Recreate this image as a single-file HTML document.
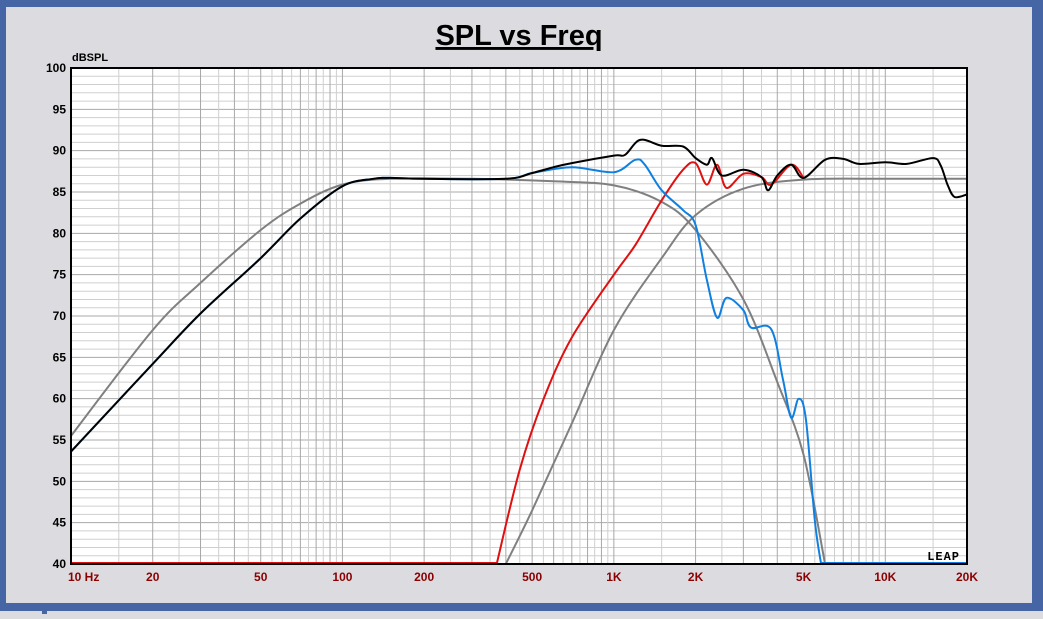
<!DOCTYPE html>
<html><head><meta charset="utf-8"><style>
body{margin:0;width:1043px;height:614px;overflow:hidden;background:#dcdce0;font-family:"Liberation Sans",sans-serif}
</style></head><body>
<svg id="c" width="1043" height="614" xmlns="http://www.w3.org/2000/svg">
<rect x="0" y="0" width="1043" height="614" fill="#dcdce0"/>
<rect x="0" y="0" width="1043" height="7" fill="#4565a5"/>
<rect x="0" y="0" width="6" height="611" fill="#4565a5"/>
<rect x="1032" y="0" width="11" height="611" fill="#4565a5"/>
<rect x="0" y="603" width="1043" height="8" fill="#4565a5"/>
<rect x="42" y="611" width="5" height="3" fill="#4565a5"/>
<text x="519" y="45" text-anchor="middle" font-size="29" font-weight="bold" text-decoration="underline">SPL vs Freq</text>
<text x="72" y="61" font-size="11" font-weight="bold">dBSPL</text>
<rect x="71" y="68" width="896" height="496" fill="#fff"/>
<g id="grid"></g><g id="series"></g>
<rect x="71" y="68" width="896" height="496" fill="none" stroke="#000" stroke-width="2"/>
<text x="960" y="560" text-anchor="end" font-size="12" font-weight="bold" letter-spacing="1" font-family="Liberation Mono,monospace">LEAP</text>
<g id="labels"></g>
</svg>
<script>
const yTicks=[40,45,50,55,60,65,70,75,80,85,90,95,100];
const xTicks=[10,20,50,100,200,500,1000,2000,5000,10000,20000];
const xTickLabels=["10 Hz","20","50","100","200","500","1K","2K","5K","10K","20K"];
const sumF=[10,20,30,50,70,100,130,150,200,400,500,600,700,1000,1100,1250,1500,1800,2000,2200,2300,2500,3000,3500,3700,4000,4500,5000,6000,7000,8000,10000,12000,15000,16000,17000,18000,20000];
const sumDb=[53.6,64.2,70.3,77,81.8,85.7,86.6,86.7,86.6,86.6,87.3,88,88.5,89.4,89.5,91.3,90.6,90.5,89.1,88.3,89.1,87,87.7,86.8,85.2,87,88.3,86.7,88.9,89,88.4,88.6,88.4,89.1,88.2,85.8,84.4,84.7];
const wooF=[10,20,30,50,70,100,130,150,200,400,500,700,1000,1200,1300,1500,1800,2000,2200,2400,2600,3000,3200,3800,4200,4500,4800,5100,5500,5800];
const wooDb=[53.6,64.2,70.3,77,81.8,85.7,86.6,86.7,86.6,86.6,87.3,88,87.4,88.9,88.3,85.2,82.8,81,74.4,69.8,72.2,70.7,68.6,68.4,62.3,57.7,60,57.5,45.3,40];
const twF=[370,450,550,700,1000,1200,1500,1800,2000,2200,2400,2600,3000,3500,3800,4500,5000];
const twDb=[40,51.4,59.9,67.4,75,78.6,84,87.7,88.5,85.9,88.3,85.5,87.2,86.8,85.9,88.3,86.7];
const tgtWF=[10,20,30,50,70,100,150,300,600,1000,1500,2000,3000,4000,5000,6000];
const tgtWDb=[55.5,68.3,74,80.4,83.6,85.9,86.6,86.6,86.3,85.8,83.8,80.4,72,62,53.2,40];
const tgtTF=[400,500,700,1000,1500,2000,3000,5000,10000,20000];
const tgtTDb=[40,46.5,57,68.3,77,82.2,85.4,86.5,86.6,86.6];
const X0=71,X1=967,Y0=68,Y1=564;
const fx=f=>X0+(Math.log10(f)-1)/Math.log10(2000)*(X1-X0);
const fy=d=>Y1-(d-40)/60*(Y1-Y0);
const NS="http://www.w3.org/2000/svg";
function mk(t,a,p){const e=document.createElementNS(NS,t);for(const k in a)e.setAttribute(k,a[k]);p.appendChild(e);return e;}
const g=document.getElementById('grid');
for(let d=40;d<=100;d++){const l=mk('line',{x1:X0,x2:X1,y1:fy(d),y2:fy(d),stroke:d%5?'#cfcfcf':'#a8a8a8','stroke-width':1},g);

}
for(let dec=10;dec<20000;dec*=10){for(let m=2;m<20;m++){const f=dec*m/2;if(f>20000)break;const dmaj=m===20;const integer=m%2===0;const l=mk('line',{x1:fx(f),x2:fx(f),y1:Y0,y2:Y1,stroke:f===dec*10?'#8a8a8a':(integer?'#a8a8a8':'#cfcfcf'),'stroke-width':1},g);

}}
const lab=document.getElementById('labels');
yTicks.forEach(d=>{const t=mk('text',{x:66,y:fy(d)+4,'text-anchor':'end','font-size':12,'font-weight':'bold'},lab);t.textContent=d;

});
xTicks.forEach((f,i)=>{const t=mk('text',{x:i===0?68:fx(f),y:581,'text-anchor':i===0?'start':'middle','font-size':12,'font-weight':'bold',fill:'#8b0000'},lab);t.textContent=xTickLabels[i];

});
const s=document.getElementById('series');
function line(F,D,c,w,n){const P=F.map((f,i)=>[fx(f),fy(D[i])]);let d='M'+P[0][0].toFixed(1)+','+P[0][1].toFixed(1);
for(let i=0;i<P.length-1;i++){const p0=P[Math.max(0,i-1)],p1=P[i],p2=P[i+1],p3=P[Math.min(P.length-1,i+2)];const k=6;
const c1=[p1[0]+(p2[0]-p0[0])/k,p1[1]+(p2[1]-p0[1])/k],c2=[p2[0]-(p3[0]-p1[0])/k,p2[1]-(p3[1]-p1[1])/k];
d+=' C'+c1.map(v=>v.toFixed(1))+' '+c2.map(v=>v.toFixed(1))+' '+p2.map(v=>v.toFixed(1));}
const e=mk('path',{d:d,fill:'none',stroke:c,'stroke-width':w,'stroke-linejoin':'round'},s);

}
line(tgtWF,tgtWDb,'#808080',2,'woofer-target-curve');
line(tgtTF,tgtTDb,'#808080',2,'tweeter-target-curve');
const r=mk('line',{x1:X0,x2:fx(370),y1:Y1-1,y2:Y1-1,stroke:'#e01010','stroke-width':2},s);


const b=mk('line',{x1:fx(5800),x2:X1,y1:Y1-1,y2:Y1-1,stroke:'#1080e0','stroke-width':2},s);


line(twF,twDb,'#e01010',2,'tweeter-curve');
line(wooF,wooDb,'#1080e0',2,'woofer-curve');
line(sumF,sumDb,'#000',2,'sum-curve');
</script>
</body></html>
